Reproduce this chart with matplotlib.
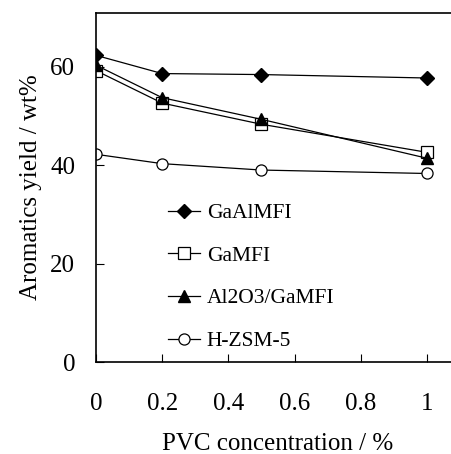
import matplotlib
matplotlib.use('Agg')
import matplotlib.pyplot as plt

plt.rcParams['font.family'] = ['Liberation Serif', 'DejaVu Serif']

# Data
pvc = [0, 0.2, 0.5, 1]
gaalmfi = [62.3, 58.6, 58.4, 57.7]
gamfi = [59.2, 52.6, 48.3, 42.6]
al2o3_gamfi = [60.3, 53.7, 49.3, 41.4]
hzsm5 = [42.2, 40.3, 39.0, 38.3]

fig = plt.figure(figsize=(4.52, 4.54), dpi=100)
ax = fig.add_axes([0.2124, 0.2026, 0.8055, 0.7687])

ax.plot(pvc, gaalmfi, '-D', color='black', lw=0.9, ms=7, mfc='black', label='GaAlMFI')
ax.plot(pvc, gamfi, '-s', color='black', lw=0.9, ms=8, mfc='white', mew=0.9, label='GaMFI')
ax.plot(pvc, al2o3_gamfi, '-^', color='black', lw=0.9, ms=8.5, mfc='black', label='Al2O3/GaMFI')
ax.plot(pvc, hzsm5, '-o', color='black', lw=0.9, ms=8, mfc='white', mew=0.9, label='H-ZSM-5')

ax.set_xlim(0, 1.1)
ax.set_ylim(0, 70.9)
ax.set_xticks([0, 0.2, 0.4, 0.6, 0.8, 1])
ax.set_xticklabels(['0', '0.2', '0.4', '0.6', '0.8', '1'])
ax.set_yticks([0, 20, 40, 60])
ax.tick_params(direction='in', labelsize=18, length=6, width=0.8)
ax.tick_params(axis='x', pad=22)
ax.tick_params(axis='y', pad=15)
for s in ax.spines.values():
    s.set_linewidth(1.2)

ax.set_xlabel('PVC concentration / %', fontsize=18, labelpad=13)
ax.set_ylabel('Aromatics yield / wt%', fontsize=18, labelpad=6)

ax.legend(loc='upper left', bbox_to_anchor=(168 / 452, 1 - 203 / 454),
          bbox_transform=fig.transFigure, frameon=False, fontsize=15.5,
          handlelength=1.5, handletextpad=0.3, labelspacing=1.05,
          borderaxespad=0, borderpad=0)

fig.savefig('out.png', dpi=100)
